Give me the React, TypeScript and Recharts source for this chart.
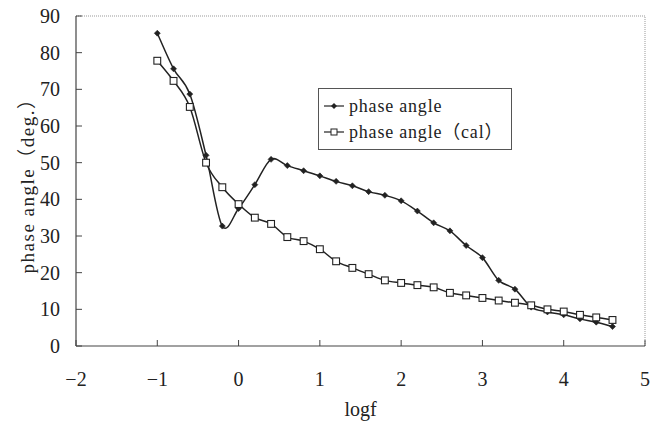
import { LineChart, Line, XAxis, YAxis, ReferenceLine } from 'recharts'

const logf = [
  -1, -0.8, -0.6, -0.4, -0.2, 0, 0.2, 0.4, 0.6, 0.8, 1, 1.2, 1.4, 1.6, 1.8, 2, 2.2, 2.4, 2.6, 2.8,
  3, 3.2, 3.4, 3.6, 3.8, 4, 4.2, 4.4, 4.6,
]
const phaseMeasured = [
  85.3, 75.6, 68.7, 52.0, 32.7, 37.5, 44.0, 50.9, 49.2, 47.8, 46.4, 44.9, 43.7, 42.1, 41.1, 39.6,
  36.8, 33.6, 31.4, 27.4, 24.1, 17.9, 15.5, 10.6, 9.3, 8.5, 7.4, 6.5, 5.3,
]
const phaseCal = [
  77.8, 72.3, 65.2, 50.0, 43.3, 38.7, 35.0, 33.3, 29.7, 28.6, 26.4, 23.1, 21.3, 19.6, 17.9, 17.2,
  16.6, 16.0, 14.5, 13.8, 13.1, 12.4, 11.8, 11.1, 10.0, 9.4, 8.5, 7.8, 7.1,
]
const seriesNames = ['phase angle', 'phase angle（cal）']
const xTicks = [-2, -1, 0, 1, 2, 3, 4, 5]
const yTicks = [0, 10, 20, 30, 40, 50, 60, 70, 80, 90]

const data = logf.map((x, i) => ({ x, measured: phaseMeasured[i], cal: phaseCal[i] }))

const serif = '"Liberation Serif", "DejaVu Serif", "Noto Sans CJK SC", serif'
const ink = '#222'
const axisColor = '#444'

// Excel-style smoothed line (Catmull-Rom through the points)
function excelSmooth(context: any) {
  let pts: number[][] = []
  return {
    areaStart() {},
    areaEnd() {},
    lineStart() {
      pts = []
    },
    lineEnd() {
      if (!pts.length) return
      context.moveTo(pts[0][0], pts[0][1])
      for (let i = 0; i < pts.length - 1; i++) {
        const p0 = pts[i - 1] || pts[i]
        const p1 = pts[i]
        const p2 = pts[i + 1]
        const p3 = pts[i + 2] || p2
        context.bezierCurveTo(
          p1[0] + (p2[0] - p0[0]) / 6,
          p1[1] + (p2[1] - p0[1]) / 6,
          p2[0] - (p3[0] - p1[0]) / 6,
          p2[1] - (p3[1] - p1[1]) / 6,
          p2[0],
          p2[1],
        )
      }
    },
    point(x: number, y: number) {
      pts.push([+x, +y])
    },
  }
}

function DiamondDot(props: any) {
  const { cx, cy, index } = props
  if (cx == null || cy == null) return <g key={`d${index}`} />
  const r = 3
  return (
    <path
      key={`d${index}`}
      d={`M${cx},${cy - r}L${cx + r},${cy}L${cx},${cy + r}L${cx - r},${cy}Z`}
      fill={ink}
      stroke={ink}
      strokeWidth={0.6}
    />
  )
}

function SquareDot(props: any) {
  const { cx, cy, index } = props
  if (cx == null || cy == null) return <g key={`s${index}`} />
  const h = 3.4
  return (
    <rect
      key={`s${index}`}
      x={cx - h}
      y={cy - h}
      width={h * 2}
      height={h * 2}
      fill="#fff"
      stroke={ink}
      strokeWidth={1.1}
    />
  )
}

function YLabel(props: any) {
  const vb = props.viewBox || {}
  const cy = (vb.y ?? 16) + (vb.height ?? 330) / 2
  const cx = 27
  return (
    <text
      x={cx}
      y={cy}
      transform={`rotate(-90 ${cx} ${cy})`}
      textAnchor="middle"
      dominantBaseline="central"
      fill={ink}
      fontFamily={serif}
      fontSize={19}
      style={{ letterSpacing: 1.5 }}
    >
      phase angle（deg.）
    </text>
  )
}

function LegendBox() {
  const row = (label: string, square: boolean) => (
    <div style={{ display: 'flex', alignItems: 'center', height: 26 }}>
      <svg width={22} height={12} style={{ marginRight: 4 }}>
        <line x1={1} y1={6} x2={21} y2={6} stroke={ink} strokeWidth={1.2} />
        {square ? (
          <rect x={8} y={3} width={6} height={6} fill="#fff" stroke={ink} strokeWidth={1} />
        ) : (
          <path d="M11,3L14,6L11,9L8,6Z" fill={ink} />
        )}
      </svg>
      <span style={{ letterSpacing: 0.8, whiteSpace: 'nowrap' }}>{label}</span>
    </div>
  )
  return (
    <div
      style={{
        position: 'absolute',
        left: 318,
        top: 88,
        border: '1px solid #555',
        padding: '4px 0 4px 4px',
        width: 188,
        fontFamily: serif,
        fontSize: 18,
        color: ink,
        background: '#fff',
        lineHeight: 1,
      }}
    >
      {row(seriesNames[0], false)}
      {row(seriesNames[1], true)}
    </div>
  )
}

export default function App() {
  return (
    <div style={{ position: 'absolute', left: 0, top: 0, width: 662, height: 424, background: '#fff' }}>
      <LineChart
        width={662}
        height={424}
        data={data}
        margin={{ top: 16, right: 17, bottom: 0, left: 0 }}
      >
        <XAxis
          type="number"
          dataKey="x"
          domain={[-2, 5]}
          ticks={xTicks}
          tickFormatter={(v: number) => (v < 0 ? `\u2212${Math.abs(v)}` : `${v}`)}
          axisLine={{ stroke: axisColor, strokeWidth: 1.2 }}
          tickLine={{ stroke: axisColor }}
          tickSize={-6}
          tickMargin={32}
          height={78}
          tick={{ fill: ink, fontFamily: serif, fontSize: 20 }}
          label={{
            value: 'logf',
            position: 'insideBottom',
            offset: 8,
            fill: ink,
            fontFamily: serif,
            fontSize: 20,
          }}
        />
        <YAxis
          type="number"
          domain={[0, 90]}
          ticks={yTicks}
          width={76}
          axisLine={{ stroke: axisColor, strokeWidth: 1.2 }}
          tickLine={{ stroke: axisColor }}
          tickSize={-6}
          tickMargin={22}
          tick={{ fill: ink, fontFamily: serif, fontSize: 20 }}
          label={<YLabel />}
        />
        <ReferenceLine y={90} stroke="#999" strokeDasharray="1 1" />
        <ReferenceLine x={5} stroke="#999" strokeDasharray="1 1" />
        <Line
          type={excelSmooth as any}
          dataKey="measured"
          name={seriesNames[0]}
          stroke={ink}
          strokeWidth={1.5}
          dot={DiamondDot}
          activeDot={false}
          isAnimationActive={false}
        />
        <Line
          type={excelSmooth as any}
          dataKey="cal"
          name={seriesNames[1]}
          stroke={ink}
          strokeWidth={1.5}
          dot={SquareDot}
          activeDot={false}
          isAnimationActive={false}
        />
      </LineChart>
      <LegendBox />
    </div>
  )
}
